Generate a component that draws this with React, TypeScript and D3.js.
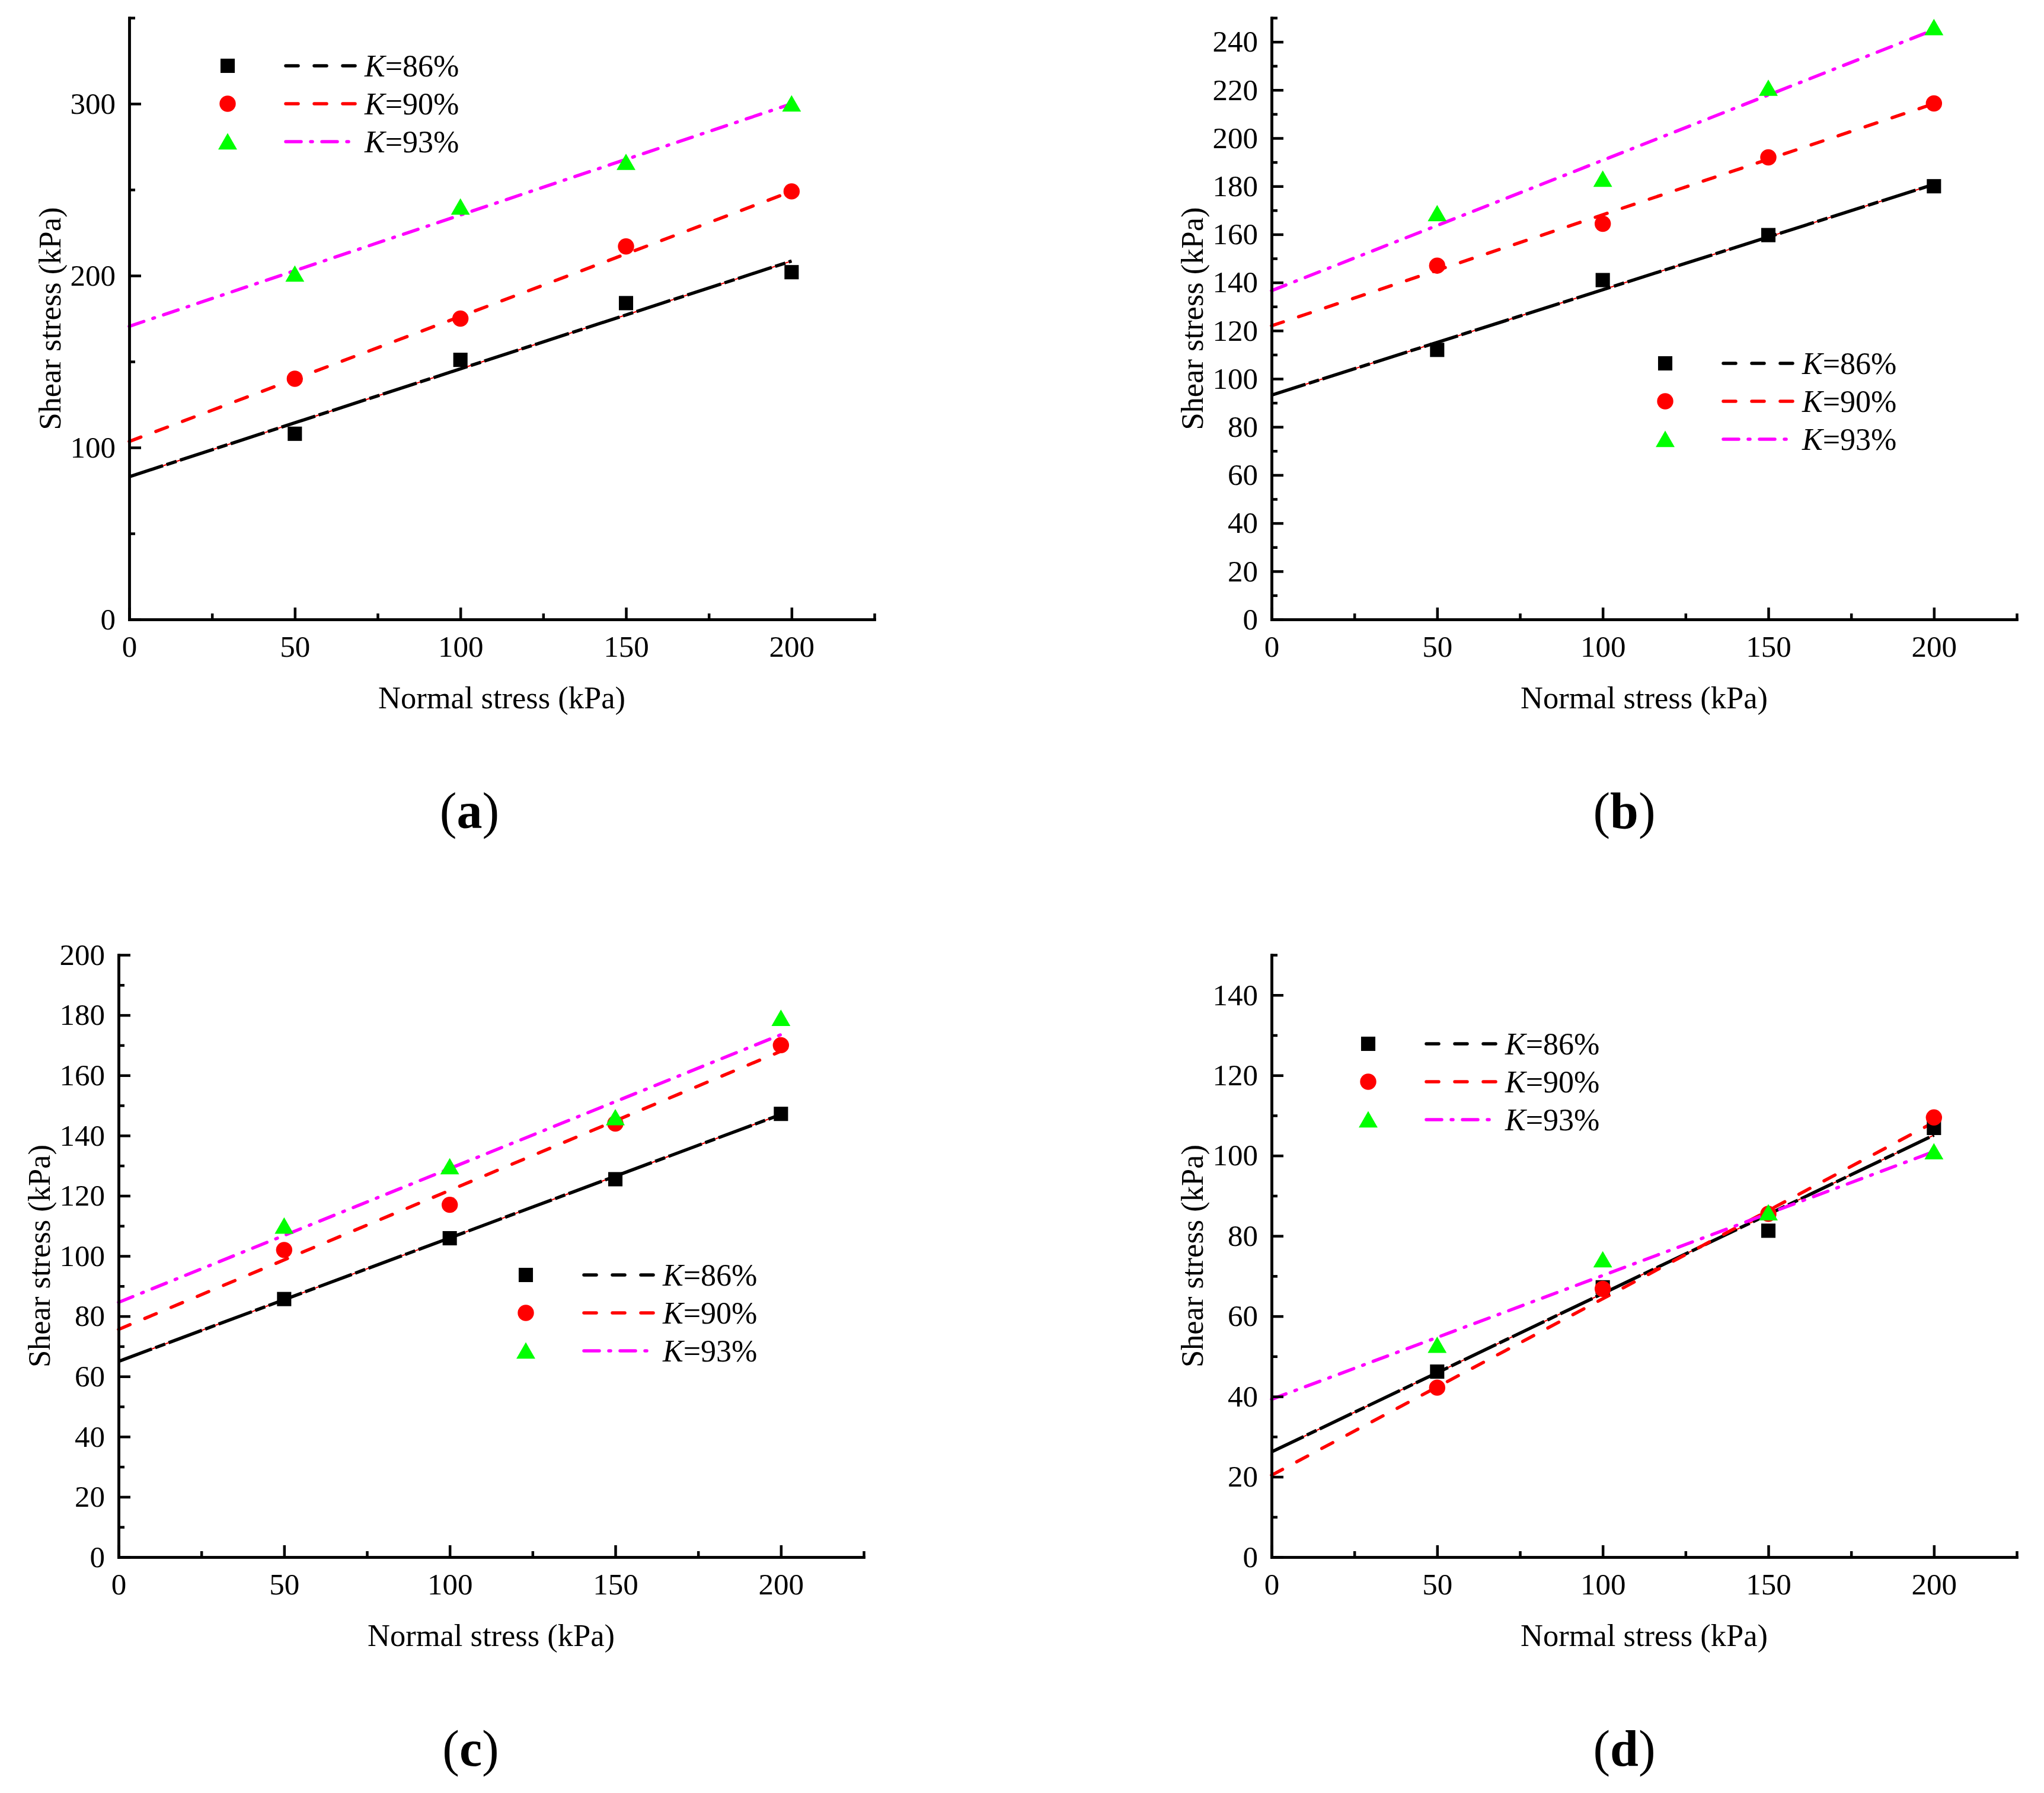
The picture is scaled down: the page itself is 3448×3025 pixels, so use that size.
import * as d3 from "d3";
import React, { useEffect, useRef } from "react";

const WIDTH = 3448;
const HEIGHT = 3025;
const FONT = "'Liberation Serif', 'Times New Roman', Times, serif";

// shared x values
const normalStress = [50, 100, 150, 200];
const fitEnds = [0, 200];
const xMajorTicks = [0, 50, 100, 150, 200];
const xMinorTicks = [25, 75, 125, 175, 225];
const legendLabels = ["=86%", "=90%", "=93%"];

// (a)
const aK86 = [108, 151, 184, 202];
const aK90 = [140, 175, 217, 249];
const aK93 = [201, 240, 266, 300];
const aFit86 = [83, 208.5];
const aFit90 = [103.5, 249];
const aFit93 = [170.5, 300];
const aYMajor = [0, 100, 200, 300];
const aYMinor = [50, 150, 250, 350];

// (b)
const bK86 = [112, 141, 159.7, 180];
const bK90 = [147, 164.4, 192, 214.4];
const bK93 = [168.7, 183, 220.8, 246];
const bFit86 = [93.2, 180.8];
const bFit90 = [122, 214.3];
const bFit93 = [136.6, 245];
const bYMajor = [0, 20, 40, 60, 80, 100, 120, 140, 160, 180, 200, 220, 240];
const bYMinor = [10, 30, 50, 70, 90, 110, 130, 150, 170, 190, 210, 230, 250];

// (c)
const cK86 = [85.7, 105.9, 125.5, 147.2];
const cK90 = [102, 117, 144, 170];
const cK93 = [110, 129.7, 146, 179];
const cFit86 = [65, 147];
const cFit90 = [75.6, 168];
const cFit93 = [84.6, 173.5];
const cYMajor = [0, 20, 40, 60, 80, 100, 120, 140, 160, 180, 200];
const cYMinor = [10, 30, 50, 70, 90, 110, 130, 150, 170, 190];

// (d)
const dK86 = [46.2, 67.2, 81.3, 106.9];
const dK90 = [42.2, 66.8, 85.5, 109.5];
const dK93 = [52.8, 74.1, 85.8, 101];
const dFit86 = [26.2, 105.1];
const dFit90 = [20.4, 108.3];
const dFit93 = [39.3, 101];
const dYMajor = [0, 20, 40, 60, 80, 100, 120, 140];
const dYMinor = [10, 30, 50, 70, 90, 110, 130, 150];

const lineColors = ["#000000", "#ff0000", "#ff00ff"];
const markerColors = ["#000000", "#ff0000", "#00ff00"];
const markerTypes = [d3.symbolSquare, d3.symbolCircle, d3.symbolTriangle];
const markerSizes = [580, 590, 440];
const dashes = ["21,27", "21,27", "26,16,3,16"];

type PanelCfg = {
    letter: string;
    left: number;
    right: number;
    top: number;
    bottom: number;
    yMax: number;
    yMajor: number[];
    yMinor: number[];
    points: number[][];
    fits: number[][];
    legendX: number;
    legendY: number;
    labelX: number;
    labelY: number;
};

const panels: PanelCfg[] = [
    {
        letter: "a", left: 218, right: 1475, top: 30, bottom: 1045, yMax: 350,
        yMajor: aYMajor, yMinor: aYMinor,
        points: [aK86, aK90, aK93], fits: [aFit86, aFit90, aFit93],
        legendX: 384, legendY: 111, labelX: 792, labelY: 1397,
    },
    {
        letter: "b", left: 2145, right: 3402, top: 30, bottom: 1045, yMax: 250,
        yMajor: bYMajor, yMinor: bYMinor,
        points: [bK86, bK90, bK93], fits: [bFit86, bFit90, bFit93],
        legendX: 2809, legendY: 613, labelX: 2740, labelY: 1397,
    },
    {
        letter: "c", left: 200, right: 1457, top: 1611, bottom: 2627, yMax: 200,
        yMajor: cYMajor, yMinor: cYMinor,
        points: [cK86, cK90, cK93], fits: [cFit86, cFit90, cFit93],
        legendX: 887, legendY: 2151, labelX: 794, labelY: 2979,
    },
    {
        letter: "d", left: 2145, right: 3402, top: 1611, bottom: 2627, yMax: 150,
        yMajor: dYMajor, yMinor: dYMinor,
        points: [dK86, dK90, dK93], fits: [dFit86, dFit90, dFit93],
        legendX: 2308, legendY: 1761, labelX: 2740, labelY: 2979,
    },
];

// triangle from d3 is centred on its centroid, nudge it so the box is centred
const Marker: React.FC<{ i: number; x: number; y: number }> = ({ i, x, y }) => {
    const path = d3.symbol().type(markerTypes[i]).size(markerSizes[i])();
    return (
        <path
            d={path || ""}
            transform={`translate(${x},${y + (i === 2 ? 4 : 0)})`}
            fill={markerColors[i]}
        />
    );
};

const Panel: React.FC<{ cfg: PanelCfg }> = ({ cfg }) => {
    const axesRef = useRef(null);

    const xScale = d3.scaleLinear().domain([0, 225]).range([cfg.left, cfg.right]);
    const yScale = d3.scaleLinear().domain([0, cfg.yMax]).range([cfg.bottom, cfg.top]);

    useEffect(() => {
        const g = d3.select(axesRef.current);
        g.selectAll("*").remove();

        const xMinor = d3.axisBottom(xScale).tickValues(xMinorTicks)
            .tickSizeInner(-10).tickSizeOuter(0).tickFormat(() => "");
        const xMajor = d3.axisBottom(xScale).tickValues(xMajorTicks)
            .tickSizeInner(-20).tickSizeOuter(0).tickPadding(27);
        const yMinor = d3.axisLeft(yScale).tickValues(cfg.yMinor)
            .tickSizeInner(-10).tickSizeOuter(0).tickFormat(() => "");
        const yMajor = d3.axisLeft(yScale).tickValues(cfg.yMajor)
            .tickSizeInner(-20).tickSizeOuter(0).tickPadding(23);

        g.append("g").attr("transform", `translate(0,${cfg.bottom})`).call(xMinor);
        g.append("g").attr("transform", `translate(0,${cfg.bottom})`).call(xMajor);
        g.append("g").attr("transform", `translate(${cfg.left},0)`).call(yMinor);
        g.append("g").attr("transform", `translate(${cfg.left},0)`).call(yMajor);

        g.selectAll("g")
            .attr("font-family", FONT)
            .attr("font-size", 51);
        g.selectAll(".domain")
            .attr("stroke", "#000")
            .attr("stroke-width", 4.5)
            .attr("stroke-linecap", "square");
        g.selectAll(".tick line").attr("stroke", "#000").attr("stroke-width", 4.5);
        g.selectAll(".tick text").attr("fill", "#000");
    }, [cfg]);

    const line = d3
        .line<[number, number]>()
        .x((d) => xScale(d[0]))
        .y((d) => yScale(d[1]));

    const midX = (cfg.left + xScale(225)) / 2;
    const midY = (cfg.top + cfg.bottom) / 2;

    return (
        <g>
            {/* fitted lines, black one sits on a thin red line */}
            {cfg.fits.map((f, i) => {
                const d = line(fitEnds.map((x, k) => [x, f[k]] as [number, number])) || "";
                if (i === 0) {
                    return (
                        <g key={i}>
                            <path d={d} stroke="#ff0000" strokeWidth={2} fill="none" />
                            <path
                                d={d}
                                stroke="#000"
                                strokeWidth={5.5}
                                fill="none"
                                strokeDasharray="60,6,18,6"
                            />
                        </g>
                    );
                }
                return (
                    <path
                        key={i}
                        d={d}
                        stroke={lineColors[i]}
                        strokeWidth={5.5}
                        fill="none"
                        strokeDasharray={dashes[i]}
                        strokeLinecap="round"
                    />
                );
            })}

            {cfg.points.map((vals, i) =>
                vals.map((v, k) => (
                    <Marker key={`${i}-${k}`} i={i} x={xScale(normalStress[k])} y={yScale(v)} />
                ))
            )}

            <g ref={axesRef} />

            {/* legend */}
            {legendLabels.map((lab, i) => {
                const y = cfg.legendY + i * 64;
                return (
                    <g key={lab}>
                        <Marker i={i} x={cfg.legendX} y={y} />
                        <line
                            x1={cfg.legendX + 98}
                            x2={cfg.legendX + 219}
                            y1={y}
                            y2={y}
                            stroke={lineColors[i]}
                            strokeWidth={5.5}
                            strokeDasharray={dashes[i]}
                            strokeLinecap="round"
                        />
                        <text
                            x={cfg.legendX + 231}
                            y={y + 18}
                            fontFamily={FONT}
                            fontSize={52}
                            fill="#000"
                        >
                            <tspan fontStyle="italic">K</tspan>
                            {lab}
                        </text>
                    </g>
                );
            })}

            <text
                x={midX}
                y={cfg.bottom + 150}
                textAnchor="middle"
                fontFamily={FONT}
                fontSize={52.5}
                fill="#000"
            >
                Normal stress (kPa)
            </text>
            <text
                transform={`translate(${cfg.left - 116},${midY}) rotate(-90)`}
                textAnchor="middle"
                fontFamily={FONT}
                fontSize={52.5}
                fill="#000"
            >
                Shear stress (kPa)
            </text>
            <text
                x={cfg.labelX}
                y={cfg.labelY}
                textAnchor="middle"
                fontFamily={FONT}
                fontSize={86}
                fill="#000"
            >
                (<tspan fontWeight="bold">{cfg.letter}</tspan>)
            </text>
        </g>
    );
};

const App: React.FC = () => {
    return (
        <svg
            width={WIDTH}
            height={HEIGHT}
            style={{ position: "absolute", left: 0, top: 0, background: "#fff" }}
        >
            <rect width={WIDTH} height={HEIGHT} fill="#fff" />
            {panels.map((p) => (
                <Panel key={p.letter} cfg={p} />
            ))}
        </svg>
    );
};

export default App;
